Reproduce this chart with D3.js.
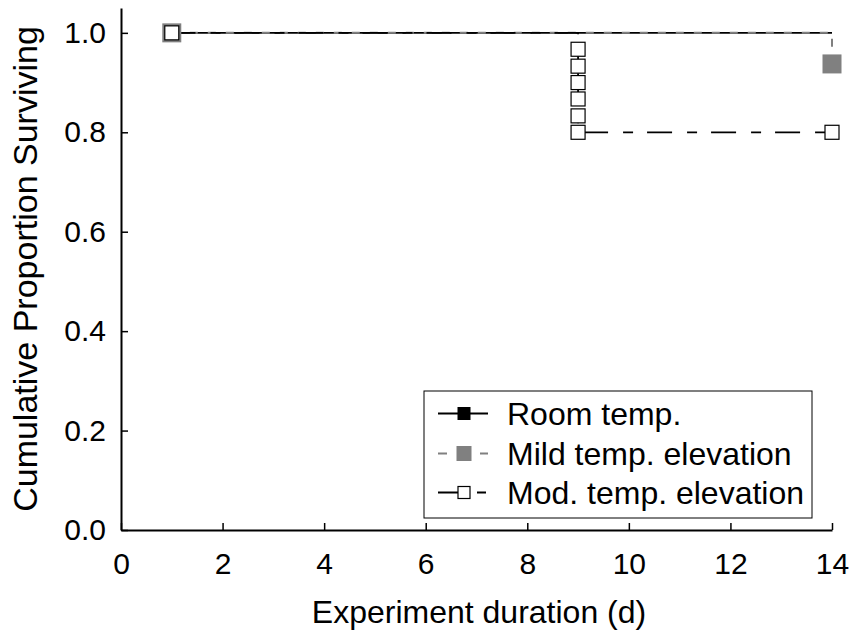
<!DOCTYPE html>
<html>
<head>
<meta charset="utf-8">
<script src="https://cdn.jsdelivr.net/npm/d3@7"></script>
<style>
  html, body { margin: 0; padding: 0; background: #fff; }
  svg { display: block; font-family: "Liberation Sans", Arial, sans-serif; }
</style>
</head>
<body>
<svg id="chart" width="854" height="637"></svg>
<script>
// ---- data ----
const xTicks = [0, 2, 4, 6, 8, 10, 12, 14];
const yTicks = [0.0, 0.2, 0.4, 0.6, 0.8, 1.0];
const seriesNames = ["Room temp.", "Mild temp. elevation", "Mod. temp. elevation"];

// step curve vertices (day, cumulative proportion surviving)
const roomDays = [1, 14];
const roomSurv = [1.0, 1.0];
const roomMarkDays = [1];
const roomMarkSurv = [1.0];

const mildDays = [1, 14, 14];
const mildSurv = [1.0, 1.0, 0.9375];
const mildMarkDays = [1, 14];
const mildMarkSurv = [1.0, 0.9375];

const modDays = [1, 9, 9, 9, 9, 9, 9, 9, 14];
const modSurv = [1.0, 1.0, 0.967, 0.933, 0.9, 0.867, 0.833, 0.8, 0.8];
const modMarkDays = [1, 9, 9, 9, 9, 9, 9, 14];
const modMarkSurv = [1.0, 0.967, 0.933, 0.9, 0.867, 0.833, 0.8, 0.8];

// ---- drawing ----
const svg = d3.select("#chart");
const x = d3.scaleLinear().domain([0, 14]).range([121, 832]);
const y = d3.scaleLinear().domain([0, 1.05]).range([530, 8]);

const zip = (a, b) => a.map((d, i) => [d, b[i]]);
const line = d3.line().x(d => x(d[0])).y(d => y(d[1]));

// axes
const gx = svg.append("g").attr("transform", "translate(0,530)")
  .call(d3.axisBottom(x).tickValues(xTicks).tickFormat(d3.format("d"))
    .tickSizeInner(-7).tickSizeOuter(0).tickPadding(23));
const gy = svg.append("g").attr("transform", "translate(121,0)")
  .call(d3.axisLeft(y).tickValues(yTicks).tickFormat(d3.format(".1f"))
    .tickSizeInner(-7).tickSizeOuter(0).tickPadding(15));
[gx, gy].forEach(g => {
  g.select(".domain").attr("stroke", "#000").attr("stroke-width", 2);
  g.selectAll(".tick line").attr("stroke", "#000").attr("stroke-width", 1.5);
  g.selectAll(".tick text").attr("fill", "#000").style("font-size", "30px")
    .style("font-family", "'Liberation Sans', Arial, sans-serif");
});

// axis titles
svg.append("text").attr("x", 479).attr("y", 623).attr("text-anchor", "middle")
  .style("font-size", "32px").text("Experiment duration (d)");
svg.append("text").attr("transform", "translate(37,269) rotate(-90)")
  .attr("text-anchor", "middle").style("font-size", "34px")
  .text("Cumulative Proportion Surviving");

// lines
svg.append("path").datum(zip(roomDays, roomSurv)).attr("d", line)
  .attr("fill", "none").attr("stroke", "#000").attr("stroke-width", 1.8);
svg.append("path").datum(zip(mildDays, mildSurv)).attr("d", line)
  .attr("fill", "none").attr("stroke", "#808080").attr("stroke-width", 2)
  .attr("stroke-dasharray", "8,10").attr("stroke-linejoin", "round");

// mod path: align dash pattern so the dash-dot rhythm starts right after day 9
const modPts = zip(modDays, modSurv);
let L = 0;
for (let i = 1; i < modPts.length; i++) {
  const dx = x(modPts[i][0]) - x(modPts[i - 1][0]);
  const dy = y(modPts[i][1]) - y(modPts[i - 1][1]);
  L += Math.hypot(dx, dy);
  if (modPts[i][0] === 9 && modPts[i][1] === 0.8) break;
}
const period = 64;
const off = (((59 - L) % period) + period) % period;
svg.append("path").datum(modPts).attr("d", line)
  .attr("fill", "none").attr("stroke", "#000").attr("stroke-width", 1.8)
  .attr("stroke-dasharray", "25,15,10,14").attr("stroke-dashoffset", off);

// markers
function squares(days, surv, size, fill, stroke, sw) {
  svg.append("g").selectAll("rect").data(zip(days, surv)).join("rect")
    .attr("x", d => x(d[0]) - size / 2).attr("y", d => y(d[1]) - size / 2)
    .attr("width", size).attr("height", size)
    .attr("fill", fill).attr("stroke", stroke).attr("stroke-width", sw);
}
squares(roomMarkDays, roomMarkSurv, 15, "#000", "none", 0);
squares(mildMarkDays, mildMarkSurv, 19, "#808080", "none", 0);
squares(modMarkDays, modMarkSurv, 14, "#fff", "#000", 1.2);

// legend
const lg = svg.append("g");
lg.append("rect").attr("x", 424).attr("y", 391).attr("width", 388).attr("height", 127)
  .attr("fill", "#fff").attr("stroke", "#000").attr("stroke-width", 1);
const rowY = [413.5, 453.5, 492.5];
// Room
lg.append("line").attr("x1", 438).attr("x2", 488).attr("y1", rowY[0]).attr("y2", rowY[0])
  .attr("stroke", "#000").attr("stroke-width", 2);
lg.append("rect").attr("x", 464 - 6.5).attr("y", rowY[0] - 6.5).attr("width", 13).attr("height", 13)
  .attr("fill", "#000");
// Mild
lg.append("line").attr("x1", 438).attr("x2", 488).attr("y1", rowY[1]).attr("y2", rowY[1])
  .attr("stroke", "#808080").attr("stroke-width", 2).attr("stroke-dasharray", "9,12");
lg.append("rect").attr("x", 464 - 7.5).attr("y", rowY[1] - 7.5).attr("width", 15).attr("height", 15)
  .attr("fill", "#808080");
// Mod
lg.append("line").attr("x1", 438).attr("x2", 488).attr("y1", rowY[2]).attr("y2", rowY[2])
  .attr("stroke", "#000").attr("stroke-width", 2).attr("stroke-dasharray", "20,19,9,20");
lg.append("rect").attr("x", 464 - 6).attr("y", rowY[2] - 6).attr("width", 12).attr("height", 12)
  .attr("fill", "#fff").attr("stroke", "#000").attr("stroke-width", 1.2);
lg.selectAll("text.lab").data(seriesNames).join("text").attr("class", "lab")
  .attr("x", 507).attr("y", (d, i) => rowY[i] + 11)
  .style("font-size", "32px").text(d => d);
</script>
</body>
</html>
